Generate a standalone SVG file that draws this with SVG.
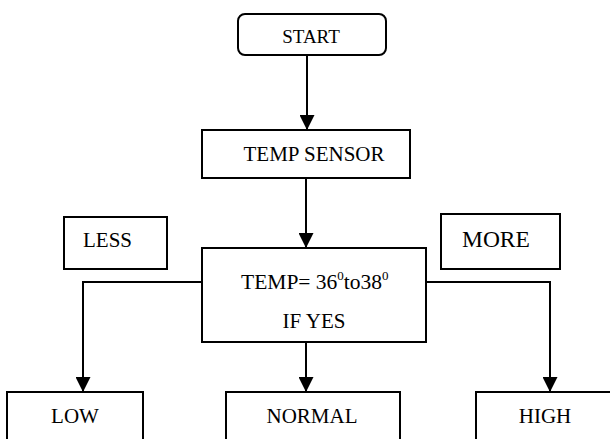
<svg xmlns="http://www.w3.org/2000/svg" width="610" height="439" viewBox="0 0 610 439">
<style>
.box{fill:#fff;stroke:#000;stroke-width:2}
.t{font-family:"Liberation Serif","Times New Roman",serif;font-size:21px;fill:#000}
.c{stroke:#000;stroke-width:2;fill:none}
</style>
<defs>
<marker id="arr" markerUnits="userSpaceOnUse" markerWidth="16" markerHeight="15" refX="15" refY="7.5" orient="auto">
<path d="M0,0 L15,7.5 L0,15 Z" fill="#000"/>
</marker>
</defs>
<rect width="610" height="439" fill="#fff"/>
<g id="connectors">
<line class="c" x1="307" y1="55" x2="307" y2="130" marker-end="url(#arr)"/>
<line class="c" x1="306" y1="178" x2="306" y2="248" marker-end="url(#arr)"/>
<polyline class="c" points="202,282 83,282 83,392" marker-end="url(#arr)"/>
<line class="c" x1="306" y1="342" x2="306" y2="392" marker-end="url(#arr)"/>
<polyline class="c" points="426,282 550,282 550,392" marker-end="url(#arr)"/>
</g>
<g id="start">
<rect class="box" x="238" y="14" width="148" height="41" rx="7"/>
<text class="t" x="311" y="43" text-anchor="middle" style="font-size:19px">START</text>
</g>
<g id="sensor">
<rect class="box" x="202" y="130" width="208" height="48"/>
<text class="t" x="314" y="161" text-anchor="middle">TEMP SENSOR</text>
</g>
<g id="less">
<rect class="box" x="64" y="217" width="103" height="52"/>
<text class="t" x="83" y="247">LESS</text>
</g>
<g id="more">
<rect class="box" x="441" y="214" width="119" height="55"/>
<text class="t" x="462" y="247" style="font-size:23.5px">MORE</text>
</g>
<g id="decision">
<rect class="box" x="202" y="248" width="224" height="94"/>
<text class="t" x="241" y="289" style="font-size:21.5px">TEMP= 36<tspan style="font-size:13px" dy="-9">0</tspan><tspan dy="9">to38</tspan><tspan style="font-size:13px" dy="-9">0</tspan></text>
<text class="t" x="314" y="328" text-anchor="middle">IF YES</text>
</g>
<g id="low">
<rect class="box" x="7" y="392" width="136" height="60"/>
<text class="t" x="75" y="423" text-anchor="middle">LOW</text>
</g>
<g id="normal">
<rect class="box" x="226" y="392" width="174" height="60"/>
<text class="t" x="312" y="423" text-anchor="middle">NORMAL</text>
</g>
<g id="high">
<rect class="box" x="476" y="392" width="150" height="60"/>
<text class="t" x="545" y="423" text-anchor="middle">HIGH</text>
</g>
</svg>
